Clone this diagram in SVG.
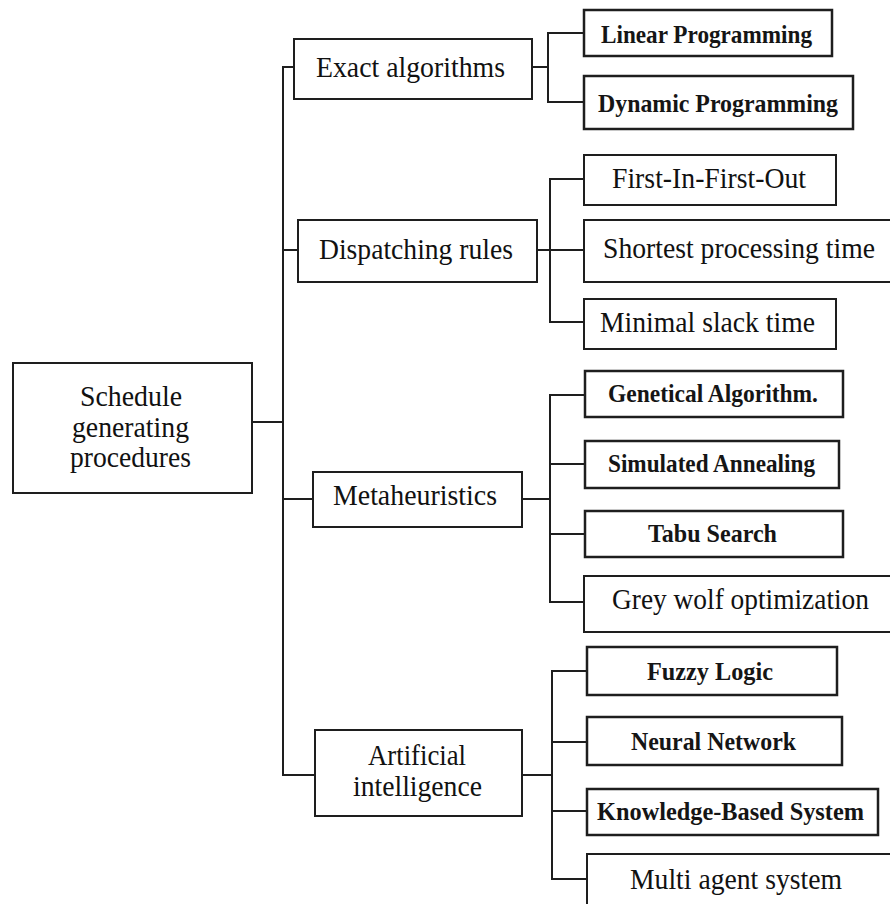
<svg xmlns="http://www.w3.org/2000/svg" width="890" height="904" viewBox="0 0 890 904">
  <style>
    .box { fill: #ffffff; stroke: #1e1e1e; stroke-width: 2; }
    .box2 { fill: #ffffff; stroke: #1e1e1e; stroke-width: 2.5; }
    .lbl { font-family: "Liberation Serif", "Times New Roman", serif; font-size: 28.5px; fill: #111111; }
    .sm { font-family: "Liberation Serif", "Times New Roman", serif; font-size: 25px; font-weight: bold; fill: #151515; }
    .wire { fill: none; stroke: #1e1e1e; stroke-width: 2; stroke-linecap: square; }
  </style>
  <rect width="890" height="904" fill="#ffffff"/>

  <!-- connectors -->
  <g id="connectors">
    <path class="wire" d="M252 422H283M283 67V775M283 67H294M283 250H298M283 499H313M283 775H315"/>
    <path class="wire" d="M532 67H548M548 33V102M548 33H584M548 102H584"/>
    <path class="wire" d="M537 250H584M550 179V322M550 179H584M550 322H584"/>
    <path class="wire" d="M522 499H550M550 395V602M550 395H585M550 464H585M550 534H585M550 602H584"/>
    <path class="wire" d="M522 775H552M552 671V879M552 671H587M552 742H587M552 811H587M552 879H587"/>
  </g>

  <!-- root -->
  <g id="root">
    <rect class="box" x="13" y="363" width="239" height="130"/>
    <text class="lbl" x="80" y="406" textLength="102" lengthAdjust="spacingAndGlyphs">Schedule</text>
    <text class="lbl" x="72" y="437" textLength="117" lengthAdjust="spacingAndGlyphs">generating</text>
    <text class="lbl" x="70" y="467" textLength="121" lengthAdjust="spacingAndGlyphs">procedures</text>
  </g>

  <!-- first level -->
  <g id="exact">
    <rect class="box" x="294" y="39" width="238" height="60"/>
    <text class="lbl" x="316" y="77" textLength="189" lengthAdjust="spacingAndGlyphs">Exact algorithms</text>
  </g>
  <g id="dispatching">
    <rect class="box" x="298" y="220" width="239" height="62"/>
    <text class="lbl" x="319" y="259" textLength="194" lengthAdjust="spacingAndGlyphs">Dispatching rules</text>
  </g>
  <g id="metaheuristics">
    <rect class="box" x="313" y="472" width="209" height="55"/>
    <text class="lbl" x="333" y="505" textLength="164" lengthAdjust="spacingAndGlyphs">Metaheuristics</text>
  </g>
  <g id="ai">
    <rect class="box" x="315" y="730" width="207" height="86"/>
    <text class="lbl" x="368" y="765" textLength="98" lengthAdjust="spacingAndGlyphs">Artificial</text>
    <text class="lbl" x="353" y="796" textLength="129" lengthAdjust="spacingAndGlyphs">intelligence</text>
  </g>

  <!-- exact algorithms -->
  <g id="linear">
    <rect class="box2" x="584" y="10" width="248" height="46"/>
    <text class="sm" x="601" y="43" textLength="211" lengthAdjust="spacingAndGlyphs">Linear Programming</text>
  </g>
  <g id="dynamic">
    <rect class="box2" x="584" y="76" width="269" height="53"/>
    <text class="sm" x="598" y="112" textLength="240" lengthAdjust="spacingAndGlyphs">Dynamic Programming</text>
  </g>

  <!-- dispatching rules -->
  <g id="fifo">
    <rect class="box" x="584" y="155" width="252" height="50"/>
    <text class="lbl" x="612" y="188" textLength="194" lengthAdjust="spacingAndGlyphs">First-In-First-Out</text>
  </g>
  <g id="spt">
    <rect class="box" x="584" y="220" width="320" height="62"/>
    <text class="lbl" x="603" y="258" textLength="272" lengthAdjust="spacingAndGlyphs">Shortest processing time</text>
  </g>
  <g id="mst">
    <rect class="box" x="584" y="299" width="252" height="50"/>
    <text class="lbl" x="600" y="332" textLength="215" lengthAdjust="spacingAndGlyphs">Minimal slack time</text>
  </g>

  <!-- metaheuristics -->
  <g id="ga">
    <rect class="box2" x="585" y="371" width="258" height="46"/>
    <text class="sm" x="608" y="402" textLength="210" lengthAdjust="spacingAndGlyphs">Genetical Algorithm.</text>
  </g>
  <g id="sa">
    <rect class="box2" x="585" y="441" width="254" height="47"/>
    <text class="sm" x="608" y="472" textLength="207" lengthAdjust="spacingAndGlyphs">Simulated Annealing</text>
  </g>
  <g id="tabu">
    <rect class="box2" x="585" y="511" width="258" height="46"/>
    <text class="sm" x="648" y="542" textLength="129" lengthAdjust="spacingAndGlyphs">Tabu Search</text>
  </g>
  <g id="gwo">
    <rect class="box" x="584" y="576" width="320" height="56"/>
    <text class="lbl" x="612" y="609" textLength="257" lengthAdjust="spacingAndGlyphs">Grey wolf optimization</text>
  </g>

  <!-- artificial intelligence -->
  <g id="fuzzy">
    <rect class="box2" x="587" y="647" width="250" height="48"/>
    <text class="sm" x="647" y="680" textLength="126" lengthAdjust="spacingAndGlyphs">Fuzzy Logic</text>
  </g>
  <g id="neural">
    <rect class="box2" x="587" y="717" width="255" height="48"/>
    <text class="sm" x="631" y="750" textLength="165" lengthAdjust="spacingAndGlyphs">Neural Network</text>
  </g>
  <g id="kbs">
    <rect class="box2" x="587" y="789" width="291" height="46"/>
    <text class="sm" x="597" y="820" textLength="267" lengthAdjust="spacingAndGlyphs">Knowledge-Based System</text>
  </g>
  <g id="mas">
    <rect class="box" x="587" y="854" width="320" height="70"/>
    <text class="lbl" x="630" y="889" textLength="212" lengthAdjust="spacingAndGlyphs">Multi agent system</text>
  </g>
</svg>
